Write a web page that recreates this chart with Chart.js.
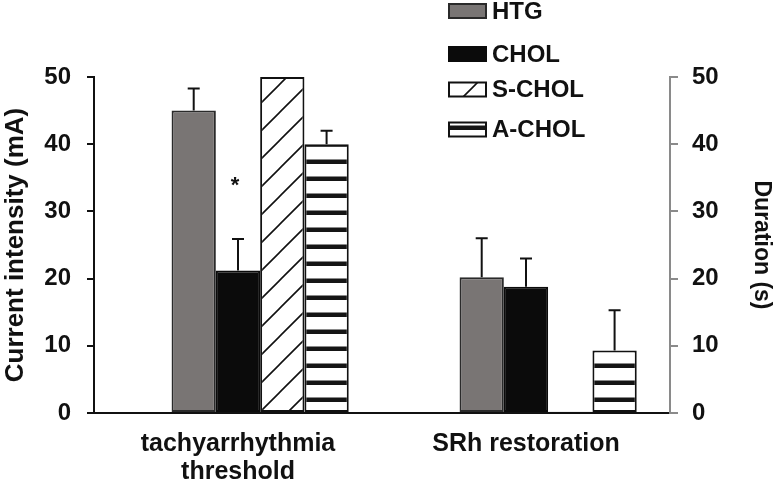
<!DOCTYPE html>
<html>
<head>
<meta charset="utf-8">
<script src="https://cdn.jsdelivr.net/npm/chart.js@4.4.0/dist/chart.umd.min.js"></script>
<style>
  html, body { margin: 0; padding: 0; background: #fff; }
</style>
</head>
<body>
<canvas id="myChart" width="775" height="482"></canvas>
<script>
// data
const categories = [['tachyarrhythmia', 'threshold'], 'SRh restoration'];
const seriesNames = ['HTG', 'CHOL', 'S-CHOL', 'A-CHOL'];
const htg = [45, 20.2];
const chol = [21.2, 18.8];
const sChol = [50, 0.2];
const aChol = [40, 9.3];
const htgErr = [3.3, 5.8];
const cholErr = [4.7, 4.2];
const sCholErr = [0, 0];
const aCholErr = [2, 6];
const spacer = [null, null]; // empty slot Excel leaves left of each group
const starCategory = 0;      // '*' over CHOL, tachyarrhythmia threshold
const starLevel = 34.6;

const FONT = '"Liberation Sans", Arial, sans-serif';
const ctx = document.getElementById('myChart').getContext('2d');

function makeHatch() {
  let c = document.createElement('canvas');
  c.width = 28; c.height = 28;
  let g = c.getContext('2d');
  g.fillStyle = '#fff';
  g.fillRect(0, 0, 28, 28);
  g.strokeStyle = '#111';
  g.lineWidth = 1.6;
  g.beginPath();
  g.moveTo(-4, 32); g.lineTo(32, -4);
  g.moveTo(-4, 4); g.lineTo(4, -4);
  g.moveTo(24, 32); g.lineTo(32, 24);
  g.stroke();
  return ctx.createPattern(c, 'repeat');
}

function makeStripes() {
  let c = document.createElement('canvas');
  c.width = 8; c.height = 17;
  let g = c.getContext('2d');
  g.fillStyle = '#fff';
  g.fillRect(0, 0, 8, 17);
  g.fillStyle = '#151515';
  g.fillRect(0, 6.5, 8, 4.5);
  return ctx.createPattern(c, 'repeat');
}

const hatch = makeHatch();
const stripes = makeStripes();

const datasets = [
  { label: '', data: spacer, backgroundColor: 'rgba(0,0,0,0)', borderWidth: 0 },
  { label: seriesNames[0], data: htg, errors: htgErr, backgroundColor: '#797574', borderColor: '#2a2a2a', borderWidth: 2 },
  { label: seriesNames[1], data: chol, errors: cholErr, backgroundColor: '#0b0b0b', borderColor: '#0b0b0b', borderWidth: 2 },
  { label: seriesNames[2], data: sChol, errors: sCholErr, backgroundColor: hatch, borderColor: '#111', borderWidth: 2 },
  { label: seriesNames[3], data: aChol, errors: aCholErr, backgroundColor: stripes, borderColor: '#111', borderWidth: 2 }
];

const errorBars = {
  id: 'errorBars',
  afterDatasetsDraw(chart) {
    const c = chart.ctx;
    const yScale = chart.scales.y;
    c.save();
    c.strokeStyle = '#111';
    c.lineWidth = 2;
    chart.data.datasets.forEach((ds, di) => {
      if (!ds.errors) return;
      const meta = chart.getDatasetMeta(di);
      meta.data.forEach((bar, i) => {
        const err = ds.errors[i];
        if (!err) return;
        const top = yScale.getPixelForValue(ds.data[i] + err);
        c.beginPath();
        c.moveTo(bar.x, bar.y);
        c.lineTo(bar.x, top);
        c.moveTo(bar.x - 6, top);
        c.lineTo(bar.x + 6, top);
        c.stroke();
      });
    });
    // significance mark
    const cholMeta = chart.getDatasetMeta(2);
    const b = cholMeta.data[starCategory];
    c.fillStyle = '#111';
    c.font = 'bold 22px ' + FONT;
    c.textAlign = 'center';
    c.textBaseline = 'alphabetic';
    c.fillText('*', b.x - 3, yScale.getPixelForValue(starLevel) + 12);
    c.restore();
  }
};

// legend sits over the top right of the plot, like in the figure
const floatingLegend = {
  id: 'floatingLegend',
  afterDraw(chart) {
    const c = chart.ctx;
    const rows = [11, 54, 89.5, 129.5];
    c.save();
    c.font = 'bold 24px ' + FONT;
    c.textAlign = 'left';
    c.textBaseline = 'middle';
    seriesNames.forEach((name, i) => {
      const ds = chart.data.datasets[i + 1];
      const y = rows[i];
      c.fillStyle = ds.backgroundColor;
      c.fillRect(449, y - 7, 37, 14);
      c.strokeStyle = ds.borderColor;
      c.lineWidth = 2;
      c.strokeRect(449, y - 7, 37, 14);
      c.fillStyle = '#111';
      c.fillText(name, 492, y + 1);
    });
    c.restore();
  }
};

const myChart = new Chart(ctx, {
  type: 'bar',
  data: { labels: categories, datasets: datasets },
  plugins: [errorBars, floatingLegend],
  options: {
    responsive: false,
    animation: false,
    layout: { padding: { top: 77, left: 0, right: 0, bottom: 0 } },
    datasets: {
      bar: { categoryPercentage: 0.769, barPercentage: 1.0, borderSkipped: false }
    },
    plugins: {
      legend: { display: false },
      tooltip: { enabled: false }
    },
    scales: {
      x: {
        grid: { display: false, drawTicks: false },
        border: { color: '#111', width: 2 },
        ticks: { color: '#111', padding: 17, font: { family: FONT, size: 25, weight: 'bold', lineHeight: 1.12 } },
        afterFit(s) { s.height = 482 - 413; }
      },
      y: {
        position: 'left',
        min: 0, max: 50,
        ticks: { stepSize: 10, color: '#111', padding: 16, font: { family: FONT, size: 24, weight: 'bold' } },
        grid: { drawOnChartArea: false, color: '#111', lineWidth: 2, tickLength: 7 },
        border: { color: '#111', width: 2 },
        title: { display: true, text: 'Current intensity (mA)', color: '#111', padding: 0, font: { family: FONT, size: 26, weight: 'bold' } },
        afterFit(s) { s.width = 94; }
      },
      y2: {
        position: 'right',
        min: 0, max: 50,
        ticks: { stepSize: 10, color: '#111', padding: 14, font: { family: FONT, size: 24, weight: 'bold' } },
        grid: { drawOnChartArea: false, color: '#8a8a8a', lineWidth: 2, tickLength: 8 },
        border: { color: '#8a8a8a', width: 2 },
        title: { display: true, text: 'Duration (s)', color: '#111', padding: 0, font: { family: FONT, size: 23, weight: 'bold' } },
        afterFit(s) { s.width = 775 - 670; }
      }
    }
  }
});
</script>
</body>
</html>
